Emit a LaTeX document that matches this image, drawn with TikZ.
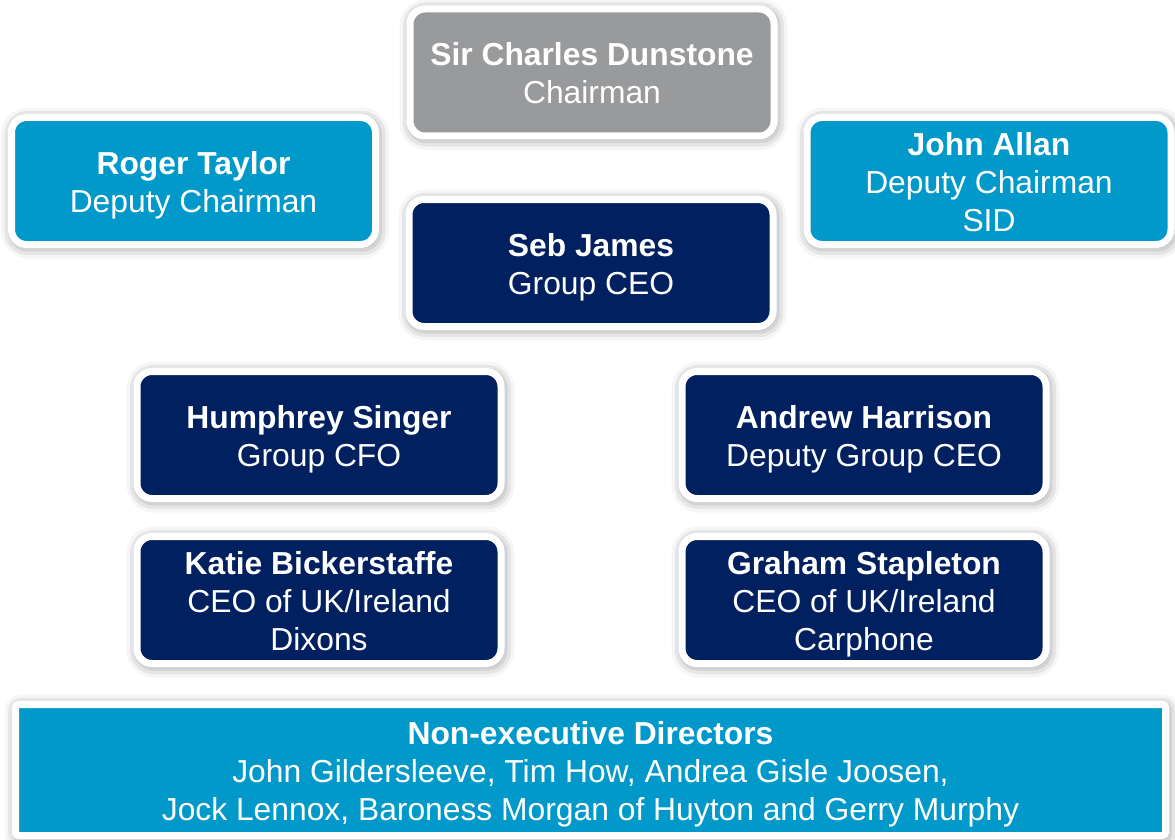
\documentclass[tikz,border=0pt]{standalone}
\usepackage{fontspec}
\setmainfont{Liberation Sans}
\usetikzlibrary{shadows.blur}
\definecolor{chairgray}{HTML}{999A9C}
\definecolor{navyc}{HTML}{002060}
\definecolor{lightb}{HTML}{0099C9}
\newcommand{\topS}{\rule{0pt}{31pt}}
\newcommand{\botS}{\rule[-7pt]{0pt}{7pt}}
\tikzset{
  orgbox/.style={draw=white, line width=7pt, rounded corners=15pt,
    minimum width=364pt, minimum height=127pt, inner sep=0pt,
    align=center, text=white, font=\fontsize{31.8}{38}\selectfont,
    blur shadow={shadow xshift=1.5pt, shadow yshift=-2pt, shadow blur radius=12pt,
      shadow opacity=55, shadow scale=1.0}},
  graybox/.style={orgbox, fill=chairgray},
  navybox/.style={orgbox, fill=navyc},
  bluebox/.style={orgbox, fill=lightb},
}
\begin{document}
\begin{tikzpicture}[x=1pt,y=-1pt]
\useasboundingbox (0,0) rectangle (1175,840);
\node[graybox] (chair) at (592,72.5) {\topS\textbf{Sir Charles Dunstone}\\Chairman\botS};
\node[bluebox] (roger) at (193.5,181) {\topS\textbf{Roger Taylor}\\Deputy Chairman\botS};
\node[bluebox] (john) at (989,181) {\topS\textbf{John Allan}\\Deputy Chairman\\SID\botS};
\node[navybox] (seb) at (591,263) {\topS\textbf{Seb James}\\Group CEO\botS};
\node[navybox] (humphrey) at (319,435) {\topS\textbf{Humphrey Singer}\\Group CFO\botS};
\node[navybox] (andrew) at (864,435) {\topS\textbf{Andrew Harrison}\\Deputy Group CEO\botS};
\node[navybox] (katie) at (319,600) {\topS\textbf{Katie Bickerstaffe}\\CEO of UK/Ireland\\Dixons\botS};
\node[navybox] (graham) at (864,600) {\topS\textbf{Graham Stapleton}\\CEO of UK/Ireland\\Carphone\botS};
\node[bluebox, rounded corners=3pt, minimum width=1150pt, minimum height=131pt] (ned) at (590.5,770)
  {\topS\textbf{Non-executive Directors}\\John Gildersleeve, Tim How, Andrea Gisle Joosen,\\Jock Lennox, Baroness Morgan of Huyton and Gerry Murphy\botS};
\end{tikzpicture}
\end{document}
